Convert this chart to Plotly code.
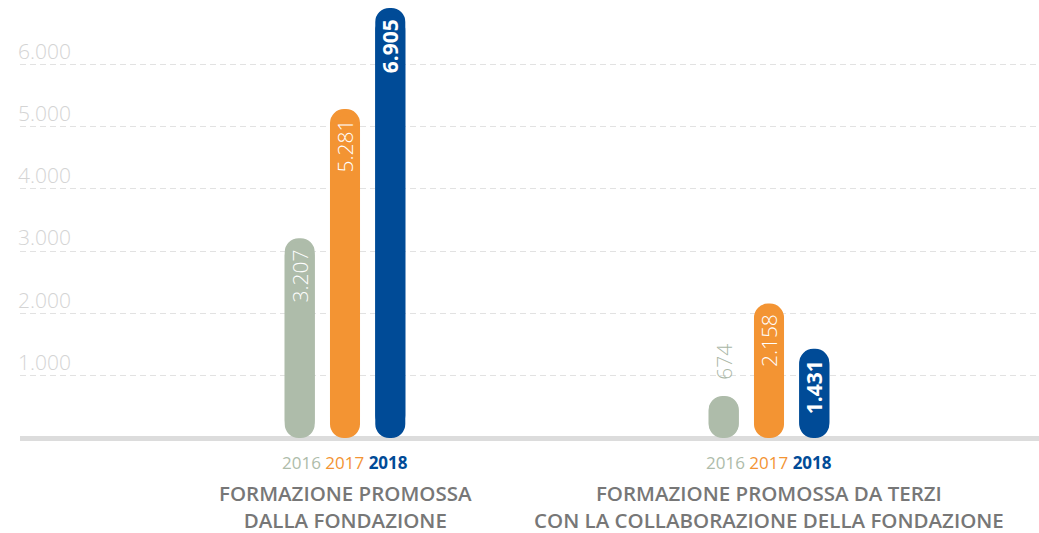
import plotly.graph_objects as go

# ---- data ----
groups = ["FORMAZIONE PROMOSSA<br>DALLA FONDAZIONE",
          "FORMAZIONE PROMOSSA DA TERZI<br>CON LA COLLABORAZIONE DELLA FONDAZIONE"]
years = ["2016", "2017", "2018"]
values_2016 = [3207, 674]
values_2017 = [5281, 2158]
values_2018 = [6905, 1431]
labels_2016 = ["3.207", "674"]
labels_2017 = ["5.281", "2.158"]
labels_2018 = ["6.905", "1.431"]
tick_vals = [1000, 2000, 3000, 4000, 5000, 6000]
tick_text = ["1.000", "2.000", "3.000", "4.000", "5.000", "6.000"]

# ---- style ----
year_colors = {"2016": "#aebcaa", "2017": "#f39433", "2018": "#004b97"}
series = {"2016": (values_2016, labels_2016), "2017": (values_2017, labels_2017),
          "2018": (values_2018, labels_2018)}
STEP = 0.1068
BAR_W = 0.0708
RADIUS = 14.9
FONT = "Open Sans"
Y_MAX = 7000
PLOT_H = 436

fig = go.Figure()
annotations = []
for k, yr in enumerate(years):
    vals, labs = series[yr]
    xs = [gi + (k - 1) * STEP for gi in range(len(groups))]
    col = year_colors[yr]
    # upper piece of the pill: rounded top (normal axis)
    fig.add_trace(go.Bar(x=xs, y=[v * 0.98 for v in vals], base=[v * 0.02 for v in vals],
                         width=BAR_W, marker=dict(color=col, cornerradius=RADIUS, line_width=0),
                         hoverinfo="skip", showlegend=False, yaxis="y"))
    # lower piece of the pill: rounded bottom (drawn on a reversed twin axis)
    fig.add_trace(go.Bar(x=xs, y=[v * 0.98 for v in vals], base=[Y_MAX - v * 0.98 for v in vals],
                         width=BAR_W, marker=dict(color=col, cornerradius=RADIUS, line_width=0),
                         hoverinfo="skip", showlegend=False, yaxis="y2"))
    for x, v, lab in zip(xs, vals, labs):
        px_h = v / Y_MAX * PLOT_H
        inside = px_h > 70
        bold = yr == "2018"
        txt = f"<b>{lab}</b>" if bold else lab
        if inside:
            annotations.append(dict(x=x, y=v, xref="x", yref="y", text=txt, textangle=-90,
                                    showarrow=False, yanchor="top", xanchor="center", yshift=-9,
                                    font=dict(family=FONT, size=21, color="#ffffff",
                                              weight=700 if bold else 300)))
        else:
            annotations.append(dict(x=x, y=v, xref="x", yref="y", text=txt, textangle=-90,
                                    showarrow=False, yanchor="bottom", xanchor="center", yshift=14,
                                    font=dict(family=FONT, size=21, color="#a9b6a5",
                                              weight=700 if bold else 300)))

year_line = (f'<span style="color:{year_colors["2016"]}">2016</span> '
             f'<span style="color:{year_colors["2017"]}">2017</span> '
             f'<span style="color:{year_colors["2018"]}"><b>2018</b></span>')
for gi, g in enumerate(groups):
    annotations.append(dict(x=gi, y=0, xref="x", yref="paper", text=year_line, showarrow=False,
                            yanchor="middle", yshift=-24.5,
                            font=dict(family=FONT, size=17)))
    annotations.append(dict(x=gi, y=0, xref="x", yref="paper", text=g, showarrow=False,
                            yanchor="middle", yshift=-68.5, borderpad=0,
                            font=dict(family=FONT, size=20.5, color="#777777", weight=600)))

fig.update_layout(
    width=1039, height=533,
    margin=dict(l=20, r=0, t=2, b=95),
    paper_bgcolor="#ffffff", plot_bgcolor="#ffffff",
    barmode="overlay",
    annotations=annotations,
    xaxis=dict(range=[-0.7665, 1.6368], showgrid=False, zeroline=False, showticklabels=False,
               showline=False, fixedrange=True),
    yaxis=dict(range=[0, Y_MAX], tickvals=tick_vals, ticktext=tick_text,
               showgrid=True, gridcolor="#e2e2e2", gridwidth=1, griddash="6px,4px",
               zeroline=True, zerolinecolor="#dcdcdc", zerolinewidth=5,
               ticklabelposition="inside", ticklabelshift=-13, ticklabelstandoff=-5,
               tickfont=dict(family=FONT, size=21, color="#d4d4d4", weight=300),
               showline=False, fixedrange=True),
    yaxis2=dict(range=[Y_MAX, 0], overlaying="y", visible=False, fixedrange=True),
)
fig.write_html("out.html", config={"displayModeBar": False},
               post_script="document.body.style.margin='0';document.body.style.padding='0';")
